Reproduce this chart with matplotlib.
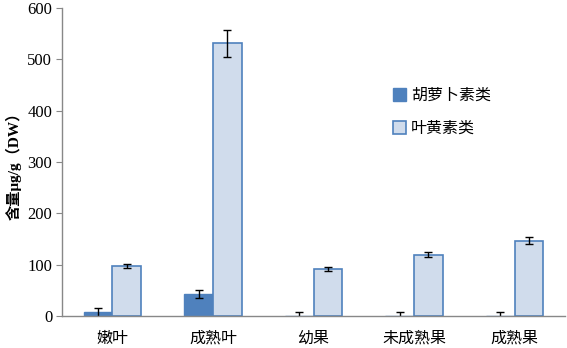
import numpy as np
import matplotlib
matplotlib.use("Agg")
import matplotlib.pyplot as plt

plt.rcParams['font.family'] = ['Noto Sans CJK SC', 'DejaVu Sans']

categories = ['嫩叶', '成熟叶', '幼果', '未成熟果', '成熟果']
carotene = [7, 43, 0, 0, 0]
carotene_err = [9, 8, 7, 7, 7]
lutein = [97, 531, 92, 119, 147]
lutein_err = [4, 26, 4, 5, 6]
series_names = ['胡萝卜素类', '叶黄素类']
yticks = [0, 100, 200, 300, 400, 500, 600]

fig = plt.figure(figsize=(5.67, 3.48), dpi=100)
ax = fig.add_axes([62 / 567, 32 / 348, 503 / 567, 308 / 348])

x = np.arange(len(categories))
w = 0.285
ekw = dict(ecolor='black', elinewidth=1.0, capsize=3, capthick=1.0)
ax.bar(x - w / 2, carotene, w, color='#4F81BD', edgecolor='#4F81BD',
       yerr=carotene_err, error_kw=ekw, label=series_names[0])
ax.bar(x + w / 2, lutein, w, color='#D0DCEC', edgecolor='#4F81BD', linewidth=1.2,
       yerr=lutein_err, error_kw=ekw, label=series_names[1])

ax.set_xlim(-0.5, len(categories) - 0.5)
ax.set_ylim(0, 600)
ax.set_yticks(yticks)
ax.set_yticklabels([str(v) for v in yticks], family=['Liberation Serif'], fontsize=12)
ax.set_xticks(x)
ax.set_xticklabels(categories, fontsize=11.5)
ax.tick_params(axis='x', length=0, pad=10)
ax.tick_params(axis='y', direction='out', length=4, color='#888888', pad=3)

for s in ['top', 'right']:
    ax.spines[s].set_visible(False)
for s in ['left', 'bottom']:
    ax.spines[s].set_color('#888888')
    ax.spines[s].set_linewidth(1.0)

ax.set_ylabel('含量μg/g（DW）', fontsize=11, fontweight='bold', labelpad=4,
              family=['Liberation Serif', 'Noto Sans CJK SC'])

ax.legend(loc='upper left', bbox_to_anchor=(0.63, 0.79), frameon=False,
          fontsize=11.5, handlelength=0.8, handleheight=0.8, handletextpad=0.3,
          labelspacing=1.0)

fig.savefig('out.png', dpi=100)
